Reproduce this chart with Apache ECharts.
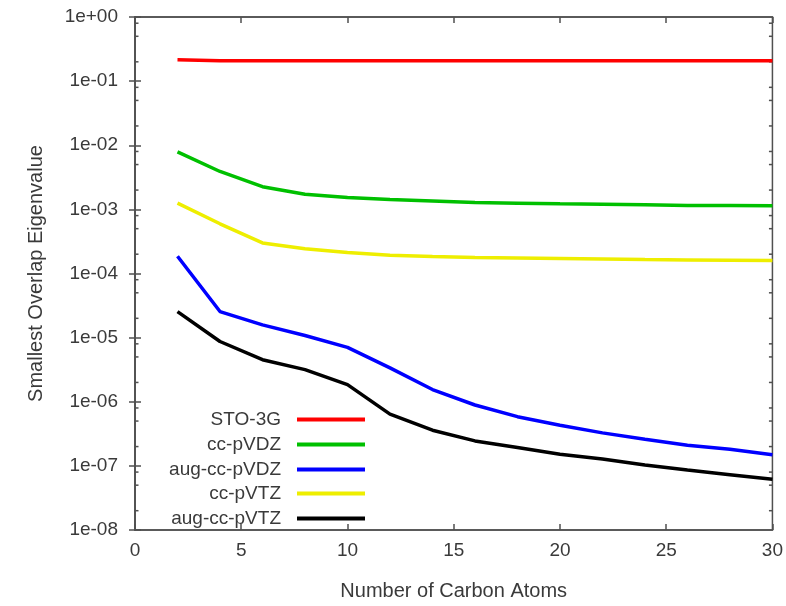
<!DOCTYPE html>
<html>
<head>
<meta charset="utf-8">
<script src="https://cdn.jsdelivr.net/npm/echarts@6/dist/echarts.min.js"></script>
<style>html,body{margin:0;padding:0;background:#fff;}#c{width:786px;height:606px;}</style>
</head>
<body>
<div id="c"></div>
<script>
const carbonAtoms = [2, 4, 6, 8, 10, 12, 14, 16, 18, 20, 22, 24, 26, 28, 30];
const sto3g      = [0.215, 0.208, 0.208, 0.208, 0.208, 0.208, 0.208, 0.208, 0.208, 0.208, 0.208, 0.208, 0.208, 0.208, 0.208];
const ccpVDZ     = [7.9e-3, 3.9e-3, 2.26e-3, 1.72e-3, 1.53e-3, 1.42e-3, 1.35e-3, 1.28e-3, 1.25e-3, 1.22e-3, 1.2e-3, 1.18e-3, 1.15e-3, 1.15e-3, 1.14e-3];
const augccpVDZ  = [1.86e-4, 2.55e-5, 1.58e-5, 1.08e-5, 7.05e-6, 3.37e-6, 1.55e-6, 8.9e-7, 5.85e-7, 4.3e-7, 3.27e-7, 2.6e-7, 2.1e-7, 1.82e-7, 1.49e-7];
const ccpVTZ     = [1.25e-3, 5.96e-4, 3.0e-4, 2.44e-4, 2.12e-4, 1.92e-4, 1.84e-4, 1.77e-4, 1.74e-4, 1.71e-4, 1.68e-4, 1.65e-4, 1.63e-4, 1.61e-4, 1.59e-4];
const augccpVTZ  = [2.55e-5, 8.7e-6, 4.53e-6, 3.17e-6, 1.85e-6, 6.4e-7, 3.6e-7, 2.45e-7, 1.94e-7, 1.52e-7, 1.28e-7, 1.03e-7, 8.6e-8, 7.3e-8, 6.2e-8];
const seriesNames = ['STO-3G', 'cc-pVDZ', 'aug-cc-pVDZ', 'cc-pVTZ', 'aug-cc-pVTZ'];
const xTicks = [0, 5, 10, 15, 20, 25, 30];
const minorTickValues = [
  2e-8, 5e-8, 8e-8, 2e-7, 5e-7, 8e-7, 2e-6, 5e-6, 8e-6, 2e-5, 5e-5, 8e-5,
  2e-4, 5e-4, 8e-4, 2e-3, 5e-3, 8e-3, 2e-2, 5e-2, 8e-2, 2e-1, 5e-1, 8e-1
];

const colors = ['#ff0000', '#00c000', '#0000ff', '#eeee00', '#000000'];
const values = [sto3g, ccpVDZ, augccpVDZ, ccpVTZ, augccpVTZ];
const FONT = 'Liberation Sans, Arial, sans-serif';
const TXT = '#3a3a3a';
const AXC = '#505050';

function fmtExp(v) {
  const e = Math.round(Math.log10(v));
  const a = Math.abs(e);
  return '1e' + (e >= 0 ? '+' : '-') + (a < 10 ? '0' + a : '' + a);
}

const chart = echarts.init(document.getElementById('c'), null, {renderer: 'canvas'});

const lineSeries = seriesNames.map((name, i) => ({
  name: name,
  type: 'line',
  data: carbonAtoms.map((x, j) => [x, values[i][j]]),
  showSymbol: false,
  symbol: 'none',
  lineStyle: {color: colors[i], width: 3.5},
  itemStyle: {color: colors[i]},
  z: 3 + i,
  animation: false
}));

const legendTop = [405, 430, 455, 479, 504];
const legends = seriesNames.map((name, i) => ({
  data: [name],
  right: 416,
  top: legendTop[i],
  align: 'right',
  icon: 'rect',
  itemWidth: 68,
  itemHeight: 4,
  selectedMode: false,
  textStyle: {fontFamily: FONT, fontSize: 19, color: TXT, padding: [0, 11, 0, 0]}
}));

const option = {
  backgroundColor: '#ffffff',
  animation: false,
  grid: {left: 135, right: 9, top: 17, bottom: 73, show: true, borderColor: AXC, borderWidth: 1.5, backgroundColor: 'transparent'},
  legend: legends,
  xAxis: [{
    type: 'value', min: xTicks[0], max: xTicks[xTicks.length - 1], interval: 5,
    name: 'Number of Carbon Atoms', nameLocation: 'middle', nameGap: 51,
    nameTextStyle: {fontFamily: FONT, fontSize: 20, color: TXT},
    axisLine: {show: true, lineStyle: {color: AXC, width: 1.5}},
    axisTick: {show: true, inside: true, length: 6, lineStyle: {color: AXC, width: 1.5}},
    axisLabel: {fontFamily: FONT, fontSize: 19, color: TXT, margin: 11},
    splitLine: {show: false}
  }, {
    type: 'value', position: 'top', min: xTicks[0], max: xTicks[xTicks.length - 1], interval: 5,
    axisLine: {show: true, lineStyle: {color: AXC, width: 1.5}},
    axisTick: {show: true, inside: true, length: 6, lineStyle: {color: AXC, width: 1.5}},
    axisLabel: {show: false},
    splitLine: {show: false}
  }],
  yAxis: [{
    type: 'log', logBase: 10, min: 1e-8, max: 1, interval: 1,
    name: 'Smallest Overlap Eigenvalue', nameLocation: 'middle', nameGap: 89, nameRotate: 90,
    nameTextStyle: {fontFamily: FONT, fontSize: 20, color: TXT},
    axisLine: {show: true, lineStyle: {color: AXC, width: 1.5}},
    axisTick: {show: true, inside: true, length: 6, lineStyle: {color: AXC, width: 1.5}},
    axisLabel: {fontFamily: FONT, fontSize: 19, color: TXT, margin: 17, formatter: fmtExp},
    splitLine: {show: false}
  }, {
    type: 'log', logBase: 10, min: 1e-8, max: 1, interval: 1, position: 'right',
    axisLine: {show: true, lineStyle: {color: AXC, width: 1.5}},
    axisTick: {show: true, inside: true, length: 6, lineStyle: {color: AXC, width: 1.5}},
    axisLabel: {show: false},
    splitLine: {show: false}
  }],
  series: lineSeries.concat([{
    type: 'custom',
    name: 'minorTicks',
    silent: true,
    xAxisIndex: 0, yAxisIndex: 0,
    data: minorTickValues.map(v => [xTicks[0], v]),
    renderItem: function (params, api) {
      const v = api.value(1);
      const l = api.coord([xTicks[0], v]);
      const r = api.coord([xTicks[xTicks.length - 1], v]);
      return {
        type: 'group',
        children: [
          {type: 'line', shape: {x1: l[0], y1: l[1], x2: l[0] + 3.5, y2: l[1]}, style: {stroke: AXC, lineWidth: 1.5}},
          {type: 'line', shape: {x1: r[0] - 3.5, y1: r[1], x2: r[0], y2: r[1]}, style: {stroke: AXC, lineWidth: 1.5}}
        ]
      };
    },
    z: 2
  }])
};
chart.setOption(option);
</script>
</body>
</html>
